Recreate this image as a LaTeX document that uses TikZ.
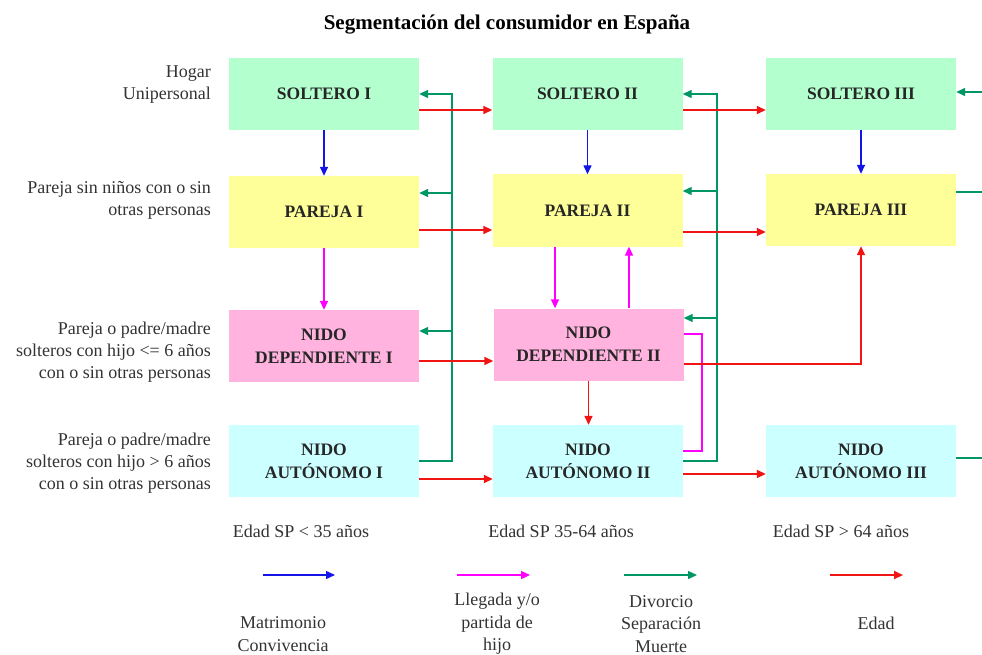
\documentclass[tikz,border=0pt]{standalone}
\usepackage{fontspec}
\setmainfont{Liberation Serif}
\usetikzlibrary{arrows.meta,calc}
\definecolor{cmint}{RGB}{179,255,206}
\definecolor{cyel}{RGB}{255,255,153}
\definecolor{cpink}{RGB}{255,179,222}
\definecolor{ccyan}{RGB}{204,255,255}
\definecolor{lblue}{RGB}{20,20,230}
\definecolor{lmag}{RGB}{255,0,255}
\definecolor{lgrn}{RGB}{0,150,102}
\definecolor{lred}{RGB}{240,20,20}
\begin{document}
\begin{tikzpicture}[x=1pt,y=-1pt,
  box/.style={minimum width=190pt, minimum height=72pt, inner sep=0pt, align=center,
    font=\fontsize{17.5}{23}\selectfont\bfseries, text=black!85},
  lbl/.style={align=right, anchor=east, inner sep=0pt, font=\fontsize{18}{22}\selectfont, text=black!80},
  txt/.style={align=center, inner sep=0pt, font=\fontsize{18}{22.5}\selectfont, text=black!80},
  con/.style={line width=1.4pt},
  tip/.style={-{Triangle[length=9pt,width=8pt]}},
  blu/.style={con, draw=lblue, tip},
  mag/.style={con, draw=lmag},
  grn/.style={con, draw=lgrn},
  rd/.style={con, line width=1.5pt, draw=lred, tip},
]
\useasboundingbox (0,0) rectangle (982,655);
\fill[white] (0,0) rectangle (982,655);

\node[font=\fontsize{21}{25}\selectfont\bfseries, inner sep=0pt] (title) at (507,25) {Segmentación del consumidor en España};

% boxes
\node[box,fill=cmint] (s1) at (324,94) {SOLTERO I};
\node[box,fill=cmint] (s2) at (587.5,94) {SOLTERO II};
\node[box,fill=cmint] (s3) at (861,94) {SOLTERO III};
\node[box,fill=cyel] (p1) at (324,212) {PAREJA I};
\node[box,fill=cyel] (p2) at (587.5,210.5) {PAREJA II};
\node[box,fill=cyel] (p3) at (861,210) {PAREJA III};
\node[box,fill=cpink] (d1) at (324,346) {NIDO\\DEPENDIENTE I};
\node[box,fill=cpink] (d2) at (588.5,344.5) {NIDO\\DEPENDIENTE II};
\node[box,fill=ccyan] (a1) at (324,461) {NIDO\\AUTÓNOMO I};
\node[box,fill=ccyan] (a2) at (588,461) {NIDO\\AUTÓNOMO II};
\node[box,fill=ccyan] (a3) at (861,461) {NIDO\\AUTÓNOMO III};

% left labels
\node[lbl] (l1) at (211,85) {Hogar\\Unipersonal};
\node[lbl] (l2) at (211,200) {Pareja sin niños con o sin\\otras personas};
\node[lbl] (l3) at (211,352) {Pareja o padre/madre\\solteros con hijo <= 6 años\\con o sin otras personas};
\node[lbl] (l4) at (211,463) {Pareja o padre/madre\\solteros con hijo > 6 años\\con o sin otras personas};

% blue
\draw[blu] (s1.south) -- (p1.north);
\draw[blu] (s2.south) -- (s2.south |- p2.north);
\draw[blu] (s3.south) -- (s3.south |- p3.north);

% magenta
\draw[mag,tip] (p1.south) -- (d1.north);
\path ([xshift=-32.5pt]p2.south) coordinate (m1);
\draw[mag,tip] (m1) -- (m1 |- d2.north);
\path ([xshift=40.5pt]d2.north) coordinate (m2);
\draw[mag,tip] (m2) -- (m2 |- p2.south);
\coordinate (mx) at (702,0);
\path ([yshift=10.5pt]d2.east) coordinate (m3);
\path ([yshift=10pt]a2.east) coordinate (m4);
\draw[mag] (m3) -- (m3 -| mx) -- (m4 -| mx) -- (m4);

% green column 1
\coordinate (g1) at (452,0);
\draw[grn,tip] (a1.east) -- (a1.east -| g1) -- (g1 |- s1.east) -- (s1.east);
\path ([yshift=19pt]p1.east) coordinate (gp1);
\draw[grn,tip] (gp1 -| g1) -- (gp1);
\path ([yshift=15pt]d1.east) coordinate (gd1);
\draw[grn,tip] (gd1 -| g1) -- (gd1);

% green column 2
\coordinate (g2) at (717,0);
\draw[grn,tip] (a2.east) -- (a2.east -| g2) -- (g2 |- s2.east) -- (s2.east);
\path ([yshift=19.5pt]p2.east) coordinate (gp2);
\draw[grn,tip] (gp2 -| g2) -- (gp2);
\path ([yshift=26.5pt]d2.east) coordinate (gd2);
\draw[grn,tip] (gd2 -| g2) -- (gd2);

% green column 3 (cut at the edge)
\coordinate (edge) at (982,0);
\path ([yshift=2pt]s3.east) coordinate (gs3);
\draw[grn,tip] (gs3 -| edge) -- (gs3);
\path ([yshift=18pt]p3.east) coordinate (gp3);
\draw[grn] (gp3) -- (gp3 -| edge);
\path ([yshift=3pt]a3.east) coordinate (ga3);
\draw[grn] (ga3) -- (ga3 -| edge);

% red (edad)
\path ([yshift=-16pt]s1.east) coordinate (rs1);
\draw[rd] (rs1) -- (rs1 -| s2.west);
\path ([yshift=-16pt]s2.east) coordinate (rs2);
\draw[rd] (rs2) -- (rs2 -| s3.west);
\path ([yshift=-18pt]p1.east) coordinate (rp1);
\draw[rd] (rp1) -- (rp1 -| p2.west);
\path ([yshift=-21.5pt]p2.east) coordinate (rp2);
\draw[rd] (rp2) -- (rp2 -| p3.west);
\path ([yshift=-15pt]d1.east) coordinate (rd1);
\draw[rd] (rd1) -- (rd1 -| d2.west);
\path ([yshift=-18pt]a1.east) coordinate (ra1);
\draw[rd] (ra1) -- (ra1 -| a2.west);
\path ([yshift=-13pt]a2.east) coordinate (ra2);
\draw[rd, line width=1.8pt] (ra2) -- (ra2 -| a3.west);
\draw[rd] (d2.south) -- (d2.south |- a2.north);
\path ([yshift=-19.5pt]d2.east) coordinate (rd2);
\draw[rd] (rd2) -| (p3.south);

% bottom age labels
\node[txt] (e1) at (301,531) {Edad SP < 35 años};
\node[txt] (e2) at (561,531) {Edad SP 35-64 años};
\node[txt] (e3) at (841,531) {Edad SP > 64 años};

% legend
\coordinate (lb1) at (263,575); \coordinate (lb2) at (335,575);
\coordinate (lm1) at (457,575); \coordinate (lm2) at (530,575);
\coordinate (lg1) at (624,575); \coordinate (lg2) at (697,575);
\coordinate (lr1) at (830,575); \coordinate (lr2) at (903,575);
\draw[blu] (lb1) -- (lb2);
\draw[mag,tip] (lm1) -- (lm2);
\draw[grn,tip] (lg1) -- (lg2);
\draw[rd, line width=1.8pt] (lr1) -- (lr2);
\node[txt] (t1) at (283,634) {Matrimonio\\Convivencia};
\node[txt] (t2) at (497,624) {Llegada y/o\\partida de\\hijo};
\node[txt] (t3) at (661,624) {Divorcio\\Separación\\Muerte};
\node[txt] (t4) at (876,623) {Edad};
\end{tikzpicture}
\end{document}
